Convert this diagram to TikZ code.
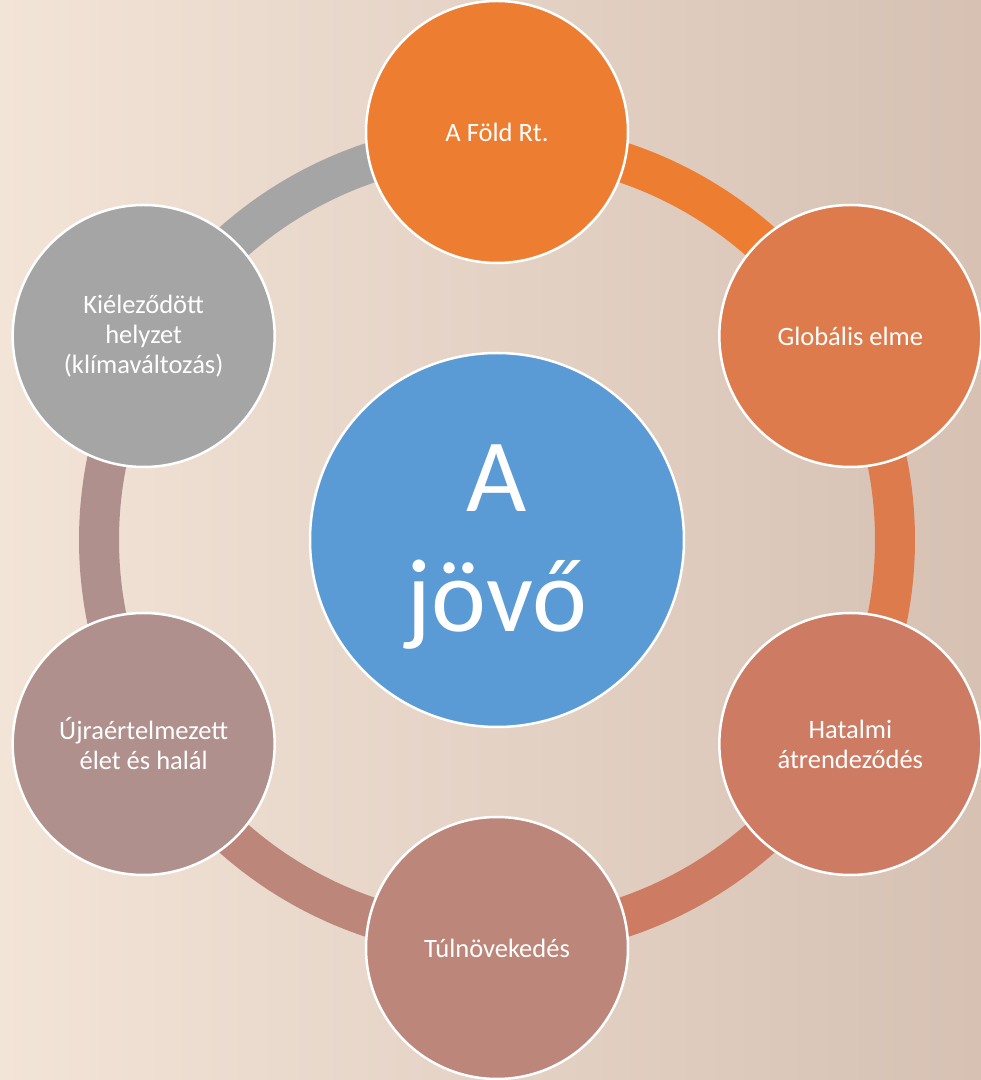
\documentclass[tikz,border=0pt]{standalone}
\usepackage{fontspec}
\setmainfont{Carlito}
\definecolor{bgL}{RGB}{242,228,215}
\definecolor{bgR}{RGB}{214,193,179}
\definecolor{cTop}{RGB}{237,125,49}
\definecolor{cGlob}{RGB}{222,123,76}
\definecolor{cHat}{RGB}{205,123,99}
\definecolor{cTul}{RGB}{188,135,122}
\definecolor{cUjra}{RGB}{175,144,141}
\definecolor{cKiel}{RGB}{165,165,165}
\definecolor{cCenter}{RGB}{91,155,213}
\begin{document}
\begin{tikzpicture}[x=1pt,y=1pt,
  ringseg/.style={line width=40pt},
  petal/.style={circle,draw=white,line width=2.5pt,minimum size=262pt,inner sep=0pt,
    text=white,align=center,font=\fontsize{26.5}{30}\selectfont},
  hub/.style={circle,draw=white,line width=2.5pt,minimum size=374pt,inner sep=0pt,fill=cCenter},
  hubtext/.style={text=white,align=center,font=\fontsize{104}{120}\selectfont,inner sep=0pt}]
\useasboundingbox (0,0) rectangle (981,1080);
\shade[left color=bgL,right color=bgR] (0,0) rectangle (981,1080);
\coordinate (C) at (497,540);
% ring segments
\draw[ringseg,cTop]  ([shift={(90:398)}]C)  arc[start angle=90,  end angle=30,   radius=398];
\draw[ringseg,cGlob] ([shift={(30:398)}]C)  arc[start angle=30,  end angle=-30,  radius=398];
\draw[ringseg,cHat]  ([shift={(-30:398)}]C) arc[start angle=-30, end angle=-90,  radius=398];
\draw[ringseg,cTul]  ([shift={(-90:398)}]C) arc[start angle=-90, end angle=-150, radius=398];
\draw[ringseg,cUjra] ([shift={(210:398)}]C) arc[start angle=210, end angle=150,  radius=398];
\draw[ringseg,cKiel] ([shift={(150:398)}]C) arc[start angle=150, end angle=90,   radius=398];
% nodes
\node[hub] (hub) at (C) {};
\node[hubtext] (hubt) at ([yshift=-7pt]C) {A\\jövő};
\node[petal,fill=cTop]  (top)  at ([shift={(90:408)}]C)  {A Föld Rt.};
\node[petal,fill=cGlob] (glob) at ([shift={(30:408)}]C)  {Globális elme};
\node[petal,fill=cHat]  (hat)  at ([shift={(-30:408)}]C) {Hatalmi\\átrendeződés};
\node[petal,fill=cTul]  (tul)  at ([shift={(-90:408)}]C) {Túlnövekedés};
\node[petal,fill=cUjra] (ujra) at ([shift={(210:408)}]C) {Újraértelmezett\\élet és halál};
\node[petal,fill=cKiel] (kiel) at ([shift={(150:408)}]C) {Kiéleződött\\helyzet\\(klímaváltozás)};
\end{tikzpicture}
\end{document}
